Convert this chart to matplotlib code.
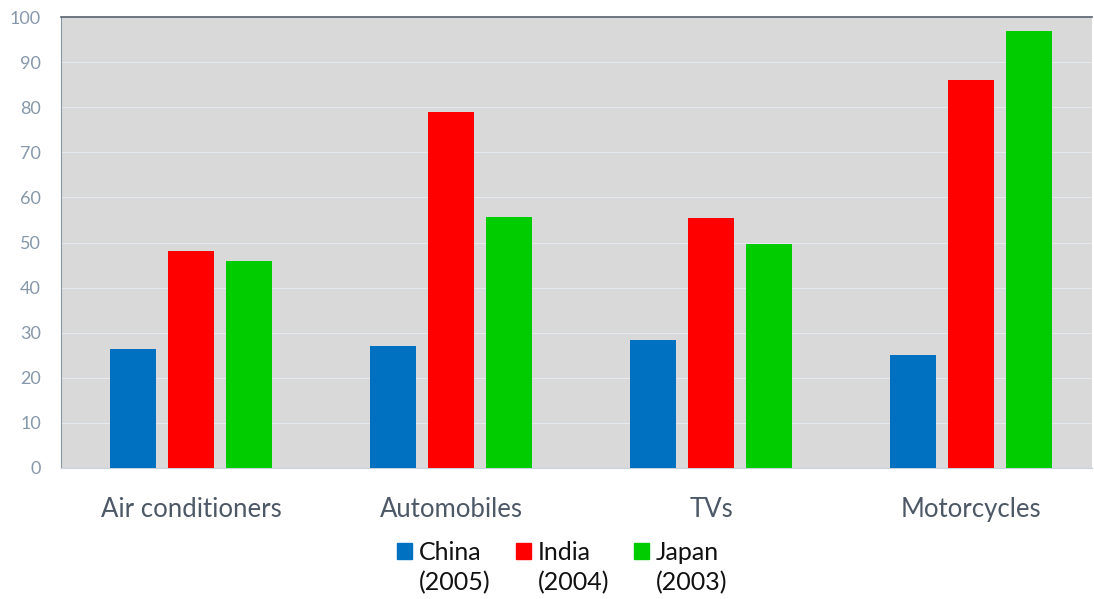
import matplotlib.pyplot as plt
import numpy as np
from matplotlib.patches import Rectangle

# data
categories = ['Air conditioners', 'Automobiles', 'TVs', 'Motorcycles']
series_names = ['China\n(2005)', 'India\n(2004)', 'Japan\n(2003)']
china = [26.4, 27.1, 28.4, 25.1]
india = [48.1, 78.9, 55.5, 86.1]
japan = [45.9, 55.7, 49.7, 96.9]
colors = ['#0070c0', '#ff0000', '#00cc00']

plt.rcParams['font.family'] = ['Lato', 'DejaVu Sans']

fig = plt.figure(figsize=(10.94, 5.99), dpi=100)
ax = fig.add_axes([61 / 1094, 1 - 468 / 599, 1031 / 1094, 451 / 599])
ax.set_facecolor('#d9d9d9')

x = np.arange(len(categories))
w = 0.177
step = 0.223
for i, (vals, c) in enumerate(zip([china, india, japan], colors)):
    ax.bar(x + (i - 1) * step, vals, w, color=c, zorder=3)

ax.set_xlim(-0.5, 3.465)
ax.set_ylim(0, 100)
ax.set_yticks(range(0, 101, 10))
ax.yaxis.grid(True, color='#e4e9ef', linewidth=0.8, zorder=0)
ax.set_axisbelow(True)
ax.tick_params(axis='y', length=0, pad=14.5, labelsize=13, labelcolor='#8698ac')
ax.set_xticks(x)
ax.set_xticklabels(categories)
ax.tick_params(axis='x', length=0, pad=21, labelsize=18.5, labelcolor='#4d5866')

ax.spines['right'].set_visible(False)
ax.spines['top'].set_color('#58626c')
ax.spines['top'].set_linewidth(1.2)
ax.spines['left'].set_color('#8a96a2')
ax.spines['bottom'].set_color('#c8d2dc')

# legend drawn by hand: square beside the first line of each label
leg_x = [397, 516, 634]
for lx, name, c in zip(leg_x, series_names, colors):
    fig.patches.append(Rectangle((lx / 1094, 1 - 559 / 599), 15 / 1094, 16 / 599,
                                 transform=fig.transFigure, color=c))
    fig.text((lx + 22) / 1094, 1 - 541 / 599, name, fontsize=18, color='#111111',
             va='top', ha='left', linespacing=1.35)

fig.savefig('out.png', dpi=100)
